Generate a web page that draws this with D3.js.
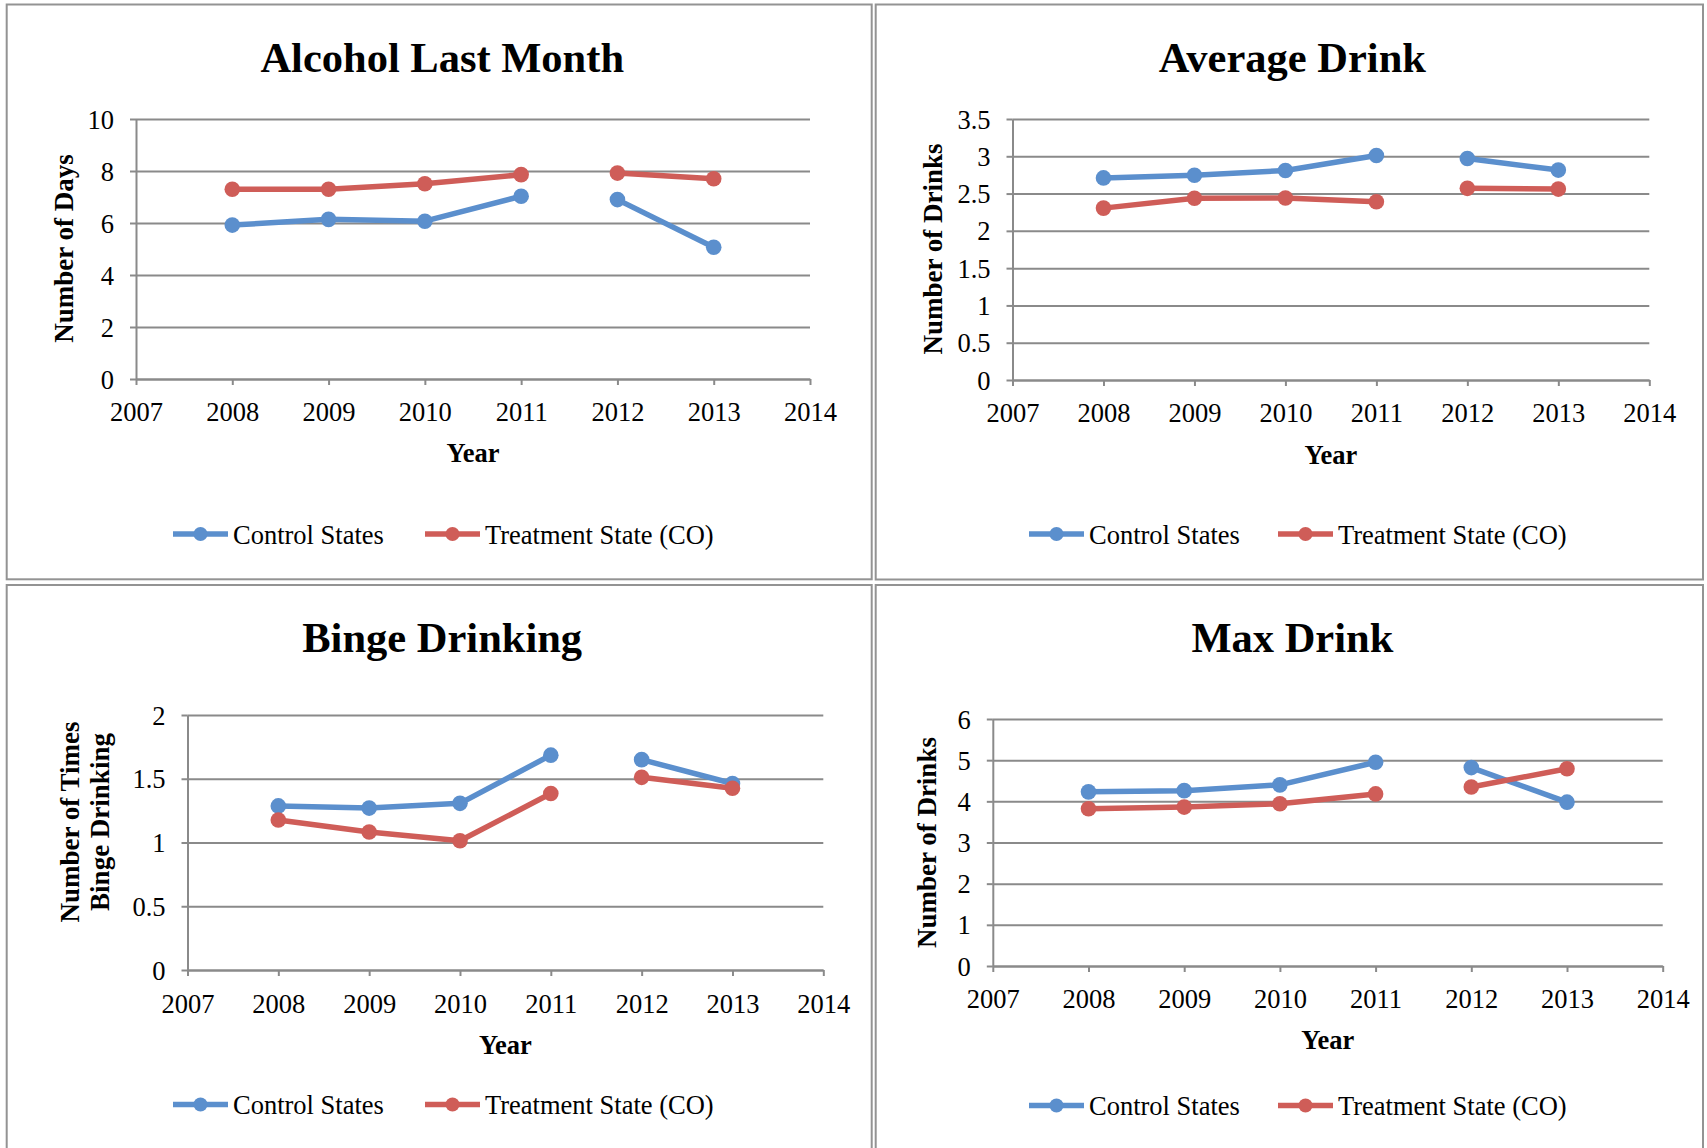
<!DOCTYPE html>
<html>
<head>
<meta charset="utf-8">
<script src="https://cdn.jsdelivr.net/npm/d3@7"></script>
<style>
  body { margin: 0; background: #fff; }
  svg text { font-family: "Liberation Serif", "Times New Roman", serif; fill: #000; }
</style>
</head>
<body>
<div id="chart"></div>
<script>
// data
var years = [2008, 2009, 2010, 2011, 2012, 2013];
var xTicks = [2007, 2008, 2009, 2010, 2011, 2012, 2013, 2014];
var breakAfter = 2011; // no line between 2011 and 2012
var seriesNames = ["Control States", "Treatment State (CO)"];

var alcoholControl = [5.92, 6.14, 6.07, 7.03, 6.90, 5.07];
var alcoholTreatment = [7.30, 7.30, 7.51, 7.86, 7.92, 7.70];
var alcoholTicks = [0, 2, 4, 6, 8, 10];

var avgControl = [2.71, 2.745, 2.81, 3.01, 2.97, 2.815];
var avgTreatment = [2.305, 2.437, 2.44, 2.39, 2.57, 2.56];
var avgTicks = [0, 0.5, 1, 1.5, 2, 2.5, 3, 3.5];

var bingeControl = [1.287, 1.27, 1.307, 1.685, 1.65, 1.463];
var bingeTreatment = [1.176, 1.082, 1.014, 1.384, 1.511, 1.426];
var bingeTicks = [0, 0.5, 1, 1.5, 2];

var maxControl = [4.23, 4.26, 4.40, 4.95, 4.82, 3.98];
var maxTreatment = [3.82, 3.86, 3.94, 4.18, 4.35, 4.79];
var maxTicks = [0, 1, 2, 3, 4, 5, 6];

var colors = ["#5b8fcd", "#cf5d58"];
var serif = "'Liberation Serif', 'Times New Roman', serif";

// layout of the four boxes
var panels = [
  {title: "Alcohol Last Month", yTitle: ["Number of Days"], series: [alcoholControl, alcoholTreatment], ticks: alcoholTicks,
   box: [6.7, 4.5, 871.7, 579.3], plot: [136, 810, 119, 379], titleY: 71.5, yTitleX: [73], yTitleY: 248.5,
   xLabelY: 42, yearY: 462, legendY: 534, legendX: [173, 425]},
  {title: "Average Drink", yTitle: ["Number of Drinks"], series: [avgControl, avgTreatment], ticks: avgTicks,
   box: [875.7, 4.5, 1703, 579.5], plot: [1012.5, 1649.3, 119, 380], titleY: 71.5, yTitleX: [942], yTitleY: 249,
   xLabelY: 42, yearY: 463.5, legendY: 534, legendX: [1029, 1278]},
  {title: "Binge Drinking", yTitle: ["Number of Times", "Binge Drinking"], series: [bingeControl, bingeTreatment], ticks: bingeTicks,
   box: [6.7, 585, 871.7, 1165], plot: [187.5, 823.3, 715, 970], titleY: 652.4, yTitleX: [78.6, 109.4], yTitleY: 822,
   xLabelY: 43, yearY: 1053.5, legendY: 1104.5, legendX: [173, 425]},
  {title: "Max Drink", yTitle: ["Number of Drinks"], series: [maxControl, maxTreatment], ticks: maxTicks,
   box: [875.7, 585, 1703, 1165], plot: [992.8, 1662.7, 719, 966], titleY: 652.4, yTitleX: [936], yTitleY: 842.6,
   xLabelY: 42, yearY: 1049, legendY: 1105.5, legendX: [1029, 1278]}
];

var svg = d3.select("#chart")
  .append("svg")
    .attr("width", 1707)
    .attr("height", 1148);

panels.forEach(function(p) {
  var g = svg.append("g");

  // box around each chart
  g.append("rect")
    .attr("x", p.box[0]).attr("y", p.box[1])
    .attr("width", p.box[2] - p.box[0]).attr("height", p.box[3] - p.box[1])
    .attr("fill", "#fff")
    .attr("stroke", "#939393")
    .attr("stroke-width", 2);

  var x = d3.scaleLinear().domain([2007, 2014]).range([p.plot[0], p.plot[1]]);
  var y = d3.scaleLinear().domain([0, d3.max(p.ticks)]).range([p.plot[3], p.plot[2]]);
  var w = p.plot[1] - p.plot[0];

  // gridlines
  var grid = g.append("g")
    .attr("transform", "translate(" + p.plot[0] + ",0)")
    .call(d3.axisLeft(y).tickValues(p.ticks).tickSize(-w).tickFormat(""));
  grid.select(".domain").remove();
  grid.selectAll("line").attr("stroke", "#8a8a8a").attr("stroke-width", 2);

  // y axis with tick labels
  var yAxis = g.append("g")
    .attr("transform", "translate(" + p.plot[0] + ",0)")
    .call(d3.axisLeft(y).tickValues(p.ticks).tickFormat(d3.format("~g"))
      .tickSize(6).tickSizeOuter(0).tickPadding(16));
  yAxis.attr("font-family", serif);
  yAxis.selectAll("path, line").attr("stroke", "#8a8a8a").attr("stroke-width", 2);
  yAxis.selectAll("text")
    .style("font-family", serif)
    .style("font-size", "26.5px")
    .attr("dy", "0.34em");

  // x axis
  var xAxis = g.append("g")
    .attr("transform", "translate(0," + p.plot[3] + ")")
    .call(d3.axisBottom(x).tickValues(xTicks).tickFormat(d3.format("d")).tickSize(6).tickSizeOuter(0));
  xAxis.attr("font-family", serif);
  xAxis.selectAll("path, line").attr("stroke", "#8a8a8a").attr("stroke-width", 2);
  xAxis.selectAll("text")
    .style("font-family", serif)
    .style("font-size", "26.5px")
    .attr("y", p.xLabelY)
    .attr("dy", null);

  // titles
  g.append("text")
    .attr("x", (p.box[0] + p.box[2]) / 2 + 3)
    .attr("y", p.titleY)
    .attr("text-anchor", "middle")
    .style("font-size", "42.5px")
    .style("font-weight", "bold")
    .text(p.title);

  g.append("text")
    .attr("x", (p.plot[0] + p.plot[1]) / 2)
    .attr("y", p.yearY)
    .attr("text-anchor", "middle")
    .style("font-size", "26.5px")
    .style("font-weight", "bold")
    .text("Year");

  p.yTitle.forEach(function(t, i) {
    g.append("text")
      .attr("transform", "translate(" + p.yTitleX[i] + "," + p.yTitleY + ") rotate(-90)")
      .attr("text-anchor", "middle")
      .style("font-size", "27px")
      .style("font-weight", "bold")
      .text(t);
  });

  // series lines, broken between 2011 and 2012
  var line = d3.line()
    .x(function(d) { return x(d.year); })
    .y(function(d) { return y(d.value); });

  p.series.forEach(function(vals, si) {
    var pts = years.map(function(yr, i) { return {year: yr, value: vals[i]}; });
    var segs = [
      pts.filter(function(d) { return d.year <= breakAfter; }),
      pts.filter(function(d) { return d.year > breakAfter; })
    ];
    g.selectAll(null)
      .data(segs)
      .enter()
      .append("path")
        .attr("d", line)
        .attr("fill", "none")
        .attr("stroke", colors[si])
        .attr("stroke-width", 5.5)
        .attr("stroke-linejoin", "round");

    g.selectAll(null)
      .data(pts)
      .enter()
      .append("circle")
        .attr("cx", function(d) { return x(d.year); })
        .attr("cy", function(d) { return y(d.value); })
        .attr("r", 7.8)
        .attr("fill", colors[si]);
  });

  // legend
  seriesNames.forEach(function(name, si) {
    var lx = p.legendX[si];
    g.append("line")
      .attr("x1", lx).attr("x2", lx + 55)
      .attr("y1", p.legendY).attr("y2", p.legendY)
      .attr("stroke", colors[si])
      .attr("stroke-width", 5.5);
    g.append("circle")
      .attr("cx", lx + 27.5).attr("cy", p.legendY)
      .attr("r", 7)
      .attr("fill", colors[si]);
    g.append("text")
      .attr("x", lx + 60)
      .attr("y", p.legendY + 9.5)
      .style("font-size", "26.5px")
      .text(name);
  });
});
</script>
</body>
</html>
